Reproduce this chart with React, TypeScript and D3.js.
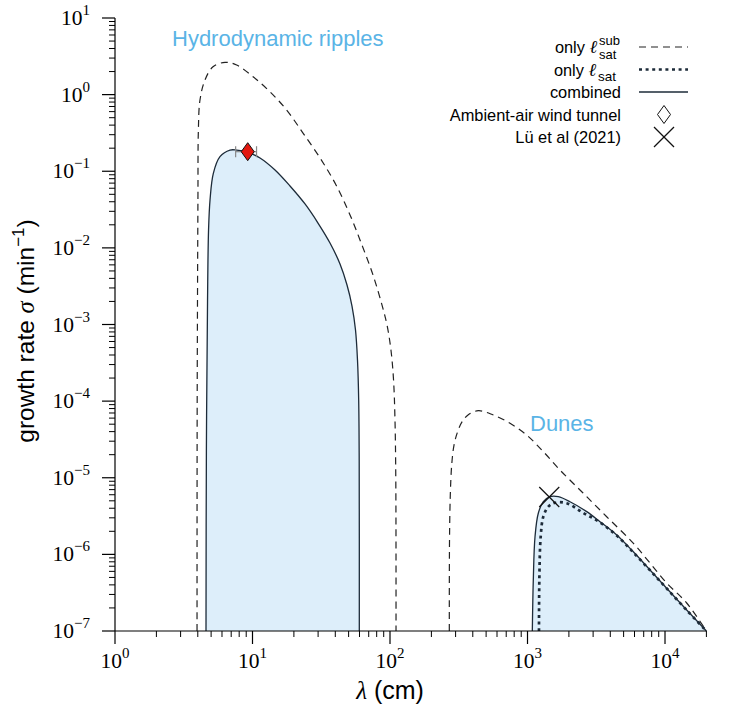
import React from "react";
import * as d3 from "d3";

// ---------- data (λ in cm, σ in 1/min) ----------
const RIPPLE_SUB_LAMBDA = [3.95, 3.96, 4.01, 4.04, 4.15, 4.51, 5.16, 6.31, 7.67, 10.1, 13.4, 17.7, 23.3, 31.0, 40.5, 51.2, 62.5, 75.2, 87.5, 95.1, 101.6, 106.1, 108.7, 110.2, 110.6];
const RIPPLE_SUB_SIGMA = [1e-7, 1e-4, 0.0422, 0.345, 0.851, 1.55, 2.31, 2.64, 2.44, 1.71, 1.09, 0.63, 0.315, 0.149, 0.0662, 0.0269, 0.0109, 0.00443, 0.00179, 9.86e-4, 4.65e-4, 1.89e-4, 5.68e-5, 9.36e-6, 1e-7];

const RIPPLE_COMB_LAMBDA = [4.59, 4.62, 4.71, 4.79, 4.91, 5.19, 5.8, 6.86, 7.67, 9.2, 11.34, 14.58, 18.74, 24.09, 29.95, 36.61, 43.29, 48.68, 52.92, 56.12, 58.02, 59.2, 59.7, 59.8];
const RIPPLE_COMB_SIGMA = [1e-7, 2.3e-5, 2.09e-3, 0.0171, 0.0422, 0.094, 0.155, 0.189, 0.189, 0.178, 0.149, 0.1038, 0.0642, 0.0374, 0.0211, 0.01158, 0.00616, 0.00328, 0.001743, 8.48e-4, 3.44e-4, 1.03e-4, 1.71e-5, 1e-7];

const DUNE_SUB_LAMBDA = [270, 270.9, 274.5, 281, 292.1, 309.7, 333.9, 369.3, 439, 564, 746, 986, 1303, 1723, 2535, 3766, 5850, 7780, 10280, 14380, 20000];
const DUNE_SUB_SIGMA = [1e-7, 1.54e-6, 5.96e-6, 1.47e-5, 2.67e-5, 3.95e-5, 5.35e-5, 6.59e-5, 7.5e-5, 6.59e-5, 5.14e-5, 3.61e-5, 2.19e-5, 1.26e-5, 6.32e-6, 3.1e-6, 1.41e-6, 7.7e-7, 4.23e-7, 2.32e-7, 1e-7];

const DUNE_COMB_LAMBDA = [1084, 1102, 1134, 1198, 1303, 1458, 1675, 2037, 2695, 3366, 4457, 5883, 7780, 10280, 14380, 20000];
const DUNE_COMB_SIGMA = [1e-7, 4.63e-7, 1.7e-6, 3.44e-6, 4.86e-6, 5.66e-6, 5.66e-6, 4.86e-6, 3.61e-6, 2.67e-6, 1.79e-6, 1.08e-6, 6.25e-7, 3.61e-7, 1.88e-7, 1e-7];

const DUNE_SAT_LAMBDA = [1212, 1219, 1247, 1303, 1417, 1585, 1928, 2547, 3366, 4457, 5883, 7780, 10280, 14380, 20000];
const DUNE_SAT_SIGMA = [1e-7, 4.63e-7, 1.7e-6, 3.1e-6, 4.19e-6, 4.72e-6, 4.65e-6, 3.47e-6, 2.61e-6, 1.76e-6, 1.06e-6, 6.2e-7, 3.6e-7, 1.87e-7, 1e-7];

const WIND_TUNNEL_LAMBDA = [9.23];
const WIND_TUNNEL_SIGMA = [0.18];
const WIND_TUNNEL_LAMBDA_LO = [7.54];
const WIND_TUNNEL_LAMBDA_HI = [10.7];

const LU_LAMBDA = [1439];
const LU_SIGMA = [5.6e-6];

const X_EXPONENTS = [0, 1, 2, 3, 4];
const Y_EXPONENTS = [-7, -6, -5, -4, -3, -2, -1, 0, 1];

const LEGEND_LABELS = ["only ℓ", "only ℓ", "combined", "Ambient-air wind tunnel", "Lü et al (2021)"];

// ---------- layout ----------
const W = 738;
const H = 712;
const X0 = 115;
const X1 = 706.4;
const Y0 = 631;
const Y1 = 18;

const SANS = "'Liberation Sans', Arial, Helvetica, sans-serif";
const SERIF = "'Liberation Serif', 'DejaVu Serif', serif";
const INK = "#1d2b39";
const FILL = "#ddeefa";
const ANNOT = "#5ab4e6";

export default function App() {
  const x = d3.scaleLog().domain([1, 2e4]).range([X0, X1]);
  const y = d3.scaleLog().domain([1e-7, 10]).range([Y0, Y1]);

  const line = d3
    .line<[number, number]>()
    .x((d) => x(d[0]))
    .y((d) => y(d[1]))
    .curve(d3.curveCatmullRom.alpha(0.5));

  const zip = (a: number[], b: number[]) => a.map((v, i) => [v, b[i]] as [number, number]);

  const rippleSub = zip(RIPPLE_SUB_LAMBDA, RIPPLE_SUB_SIGMA);
  const rippleComb = zip(RIPPLE_COMB_LAMBDA, RIPPLE_COMB_SIGMA);
  const duneSub = zip(DUNE_SUB_LAMBDA, DUNE_SUB_SIGMA);
  const duneComb = zip(DUNE_COMB_LAMBDA, DUNE_COMB_SIGMA);
  const duneSat = zip(DUNE_SAT_LAMBDA, DUNE_SAT_SIGMA);

  // minor ticks
  const xMinor: number[] = [];
  for (let e = 0; e <= 4; e++) for (let m = 2; m <= 9; m++) { const v = m * Math.pow(10, e); if (v <= 2e4 * 1.0001) xMinor.push(v); }
  const yMinor: number[] = [];
  for (let e = -7; e <= 0; e++) for (let m = 2; m <= 9; m++) yMinor.push(m * Math.pow(10, e));

  const MAJ = 13;
  const MIN = 6;
  const fmtExp = (e: number) => (e < 0 ? "−" + Math.abs(e) : String(e));

  const legendRows = [47, 69.5, 92, 114.5, 137];
  const LX_TEXT = 621;
  const LX0 = 639;
  const LX1 = 688;
  const LMID = 664;

  return (
    <svg width={W} height={H} style={{ position: "absolute", left: 0, top: 0, background: "#fff" }}>
      {/* fills */}
      <path d={(line(rippleComb) || "") + "Z"} fill={FILL} stroke="none" />
      <path d={(line(duneComb) || "") + "Z"} fill={FILL} stroke="none" />

      {/* only l_sat^sub */}
      <path d={line(rippleSub) || ""} fill="none" stroke="#222" strokeWidth={1.2} strokeDasharray="7,5" />
      <path d={line(duneSub) || ""} fill="none" stroke="#222" strokeWidth={1.2} strokeDasharray="7,5" />

      {/* only l_sat */}
      <path d={line(duneSat) || ""} fill="none" stroke={INK} strokeWidth={2.7} strokeDasharray="3,3.6" />

      {/* combined */}
      <path d={line(rippleComb) || ""} fill="none" stroke={INK} strokeWidth={1.3} />
      <path d={line(duneComb) || ""} fill="none" stroke={INK} strokeWidth={1.3} />

      {/* wind tunnel point with error bar */}
      {WIND_TUNNEL_LAMBDA.map((l, i) => {
        const cx = x(l);
        const cy = y(WIND_TUNNEL_SIGMA[i]);
        const xl = x(WIND_TUNNEL_LAMBDA_LO[i]);
        const xh = x(WIND_TUNNEL_LAMBDA_HI[i]);
        return (
          <g key={"wt" + i}>
            <line x1={xl} x2={xh} y1={cy} y2={cy} stroke="#888" strokeWidth={1.2} />
            <line x1={xl} x2={xl} y1={cy - 5.5} y2={cy + 5.5} stroke="#888" strokeWidth={1.2} />
            <line x1={xh} x2={xh} y1={cy - 5.5} y2={cy + 5.5} stroke="#888" strokeWidth={1.2} />
            <path d={`M${cx},${cy - 9} L${cx + 6.5},${cy} L${cx},${cy + 9} L${cx - 6.5},${cy} Z`} fill="#e3180f" stroke="#111" strokeWidth={1} />
          </g>
        );
      })}

      {/* Lü et al point */}
      {LU_LAMBDA.map((l, i) => {
        const cx = x(l);
        const cy = y(LU_SIGMA[i]);
        const r = 10;
        return (
          <g key={"lu" + i} stroke="#111" strokeWidth={1.2}>
            <line x1={cx - r} y1={cy - r} x2={cx + r} y2={cy + r} />
            <line x1={cx - r} y1={cy + r} x2={cx + r} y2={cy - r} />
          </g>
        );
      })}

      {/* axes */}
      <g stroke="#000" strokeWidth={1.2}>
        <line x1={X0} x2={X0} y1={Y1} y2={Y0} />
        <line x1={X0} x2={X1} y1={Y0} y2={Y0} />
        {X_EXPONENTS.map((e) => (
          <line key={"xM" + e} x1={x(Math.pow(10, e))} x2={x(Math.pow(10, e))} y1={Y0} y2={Y0 + MAJ} />
        ))}
        {xMinor.map((v, i) => (
          <line key={"xm" + i} x1={x(v)} x2={x(v)} y1={Y0} y2={Y0 + MIN} strokeWidth={1} />
        ))}
        {Y_EXPONENTS.map((e) => (
          <line key={"yM" + e} x1={X0 - MAJ} x2={X0} y1={y(Math.pow(10, e))} y2={y(Math.pow(10, e))} />
        ))}
        {yMinor.map((v, i) => (
          <line key={"ym" + i} x1={X0 - MIN} x2={X0} y1={y(v)} y2={y(v)} strokeWidth={1} />
        ))}
      </g>

      {/* tick labels */}
      <g fontFamily={SERIF} fill="#000">
        {X_EXPONENTS.map((e) => (
          <text key={"xl" + e} x={x(Math.pow(10, e))} y={Y0 + 37} textAnchor="middle" fontSize={21.5}>
            10<tspan fontSize={15} dy={-10}>{fmtExp(e)}</tspan>
          </text>
        ))}
        {Y_EXPONENTS.map((e) => (
          <text key={"yl" + e} x={90} y={y(Math.pow(10, e)) + 7} textAnchor="end" fontSize={21.5}>
            10<tspan fontSize={15} dy={-10}>{fmtExp(e)}</tspan>
          </text>
        ))}
      </g>

      {/* axis titles */}
      <text x={390} y={699} textAnchor="middle" fontFamily={SANS} fontSize={25} fill="#000">
        <tspan fontFamily={SERIF} fontStyle="italic">λ</tspan> (cm)
      </text>
      <text transform="translate(34,331) rotate(-90)" textAnchor="middle" fontFamily={SANS} fontSize={24.5} fill="#000">
        growth rate <tspan fontFamily={SERIF} fontStyle="italic">σ</tspan> (min<tspan fontSize={17} dy={-10}>−1</tspan><tspan dy={10}>)</tspan>
      </text>

      {/* annotations */}
      <text x={172} y={46} fontFamily={SANS} fontSize={22} fill={ANNOT}>Hydrodynamic ripples</text>
      <text x={530} y={431} fontFamily={SANS} fontSize={22} fill={ANNOT}>Dunes</text>

      {/* legend */}
      <g fontFamily={SANS} fontSize={16.4} fill="#000">
        <text x={597} y={legendRows[0] + 6} textAnchor="end">
          {"only "}<tspan fontFamily={SERIF} fontStyle="italic" fontSize={18}>ℓ</tspan>
        </text>
        <text fontSize={13}>
          <tspan x={599} y={legendRows[0] - 2}>sub</tspan>
          <tspan x={599} y={legendRows[0] + 11.5}>sat</tspan>
        </text>
        <line x1={LX0} x2={LX1} y1={legendRows[0]} y2={legendRows[0]} stroke="#222" strokeWidth={1.2} strokeDasharray="7,5" />

        <text x={596} y={legendRows[1] + 6} textAnchor="end">
          {"only "}<tspan fontFamily={SERIF} fontStyle="italic" fontSize={18}>ℓ</tspan>
        </text>
        <text x={598} y={legendRows[1] + 11} fontSize={13.5}>sat</text>
        <line x1={LX0} x2={LX1} y1={legendRows[1]} y2={legendRows[1]} stroke={INK} strokeWidth={2.7} strokeDasharray="3,3.6" />

        <text x={LX_TEXT} y={legendRows[2] + 6} textAnchor="end">{LEGEND_LABELS[2]}</text>
        <line x1={LX0} x2={LX1} y1={legendRows[2]} y2={legendRows[2]} stroke={INK} strokeWidth={1.3} />

        <text x={LX_TEXT} y={legendRows[3] + 6} textAnchor="end">{LEGEND_LABELS[3]}</text>
        <path d={`M${LMID},${legendRows[3] - 9} L${LMID + 6.5},${legendRows[3]} L${LMID},${legendRows[3] + 9} L${LMID - 6.5},${legendRows[3]} Z`} fill="#fff" stroke="#111" strokeWidth={1} />

        <text x={LX_TEXT} y={legendRows[4] + 6} textAnchor="end">{LEGEND_LABELS[4]}</text>
        <g stroke="#111" strokeWidth={1.2}>
          <line x1={LMID - 10} y1={legendRows[4] - 10} x2={LMID + 10} y2={legendRows[4] + 10} />
          <line x1={LMID - 10} y1={legendRows[4] + 10} x2={LMID + 10} y2={legendRows[4] - 10} />
        </g>
      </g>
    </svg>
  );
}
